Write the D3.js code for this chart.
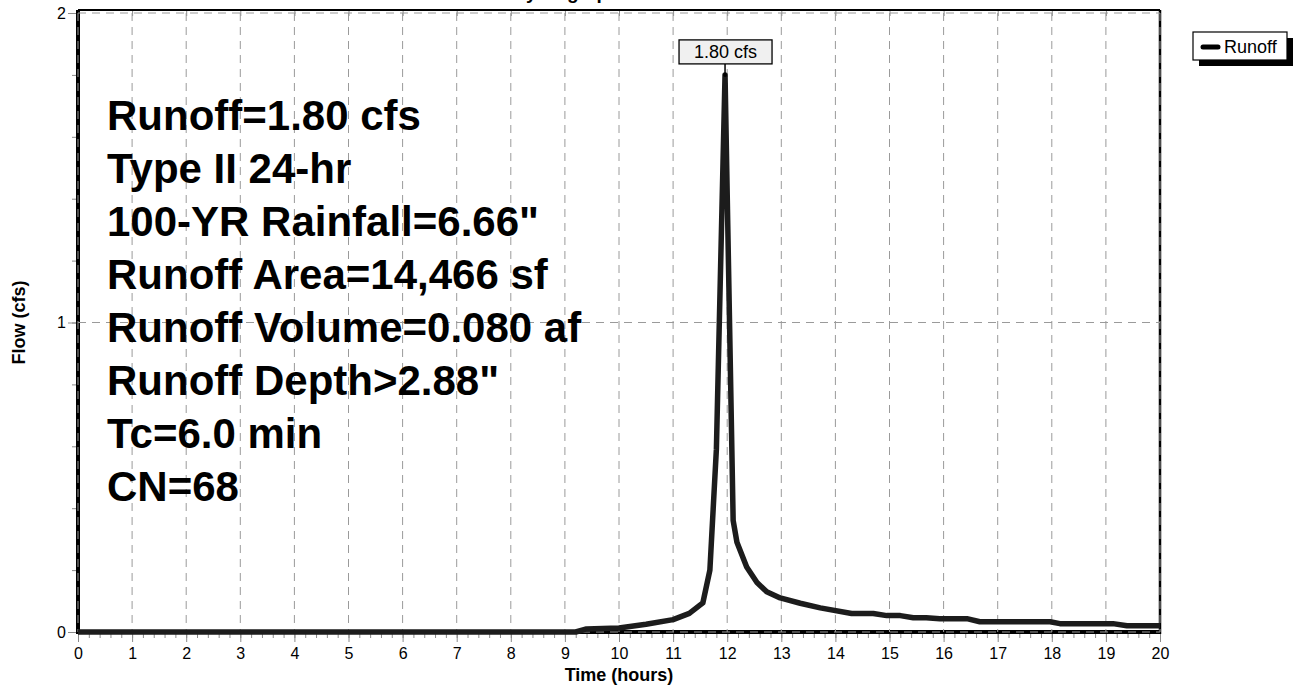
<!DOCTYPE html>
<html>
<head>
<meta charset="utf-8">
<style>
body {
  margin: 0;
  background: #fff;
}
svg {
  font-family: Arial, "Liberation Sans", sans-serif;
  display: block;
}
.grid line {
  stroke: #9a9a9a;
  stroke-dasharray: 8,6;
}
.axis path {
  display: none;
}
.axis line {
  stroke: #8a8a8a;
}
.axis text {
  fill: #000;
  font-size: 16px;
}
.info text {
  font-size: 42px;
  font-weight: bold;
}
</style>
</head>
<body>
<script src="https://cdn.jsdelivr.net/npm/d3@7"></script>
<script>

// hydrograph
var hours = [0, 9.2, 9.4, 10.0, 10.5, 11.0, 11.3, 11.55, 11.68, 11.8, 11.96, 12.11, 12.18, 12.36, 12.55, 12.73, 12.98, 13.35, 13.72, 14.3, 14.7, 14.95, 15.2, 15.44, 15.68, 15.93, 16.43, 16.67, 17.97, 18.15, 19.13, 19.39, 20.0];
var flow  = [0, 0, 0.010, 0.013, 0.025, 0.040, 0.060, 0.094, 0.20, 0.59, 1.80, 0.36, 0.29, 0.21, 0.16, 0.13, 0.11, 0.093, 0.078, 0.060, 0.060, 0.053, 0.053, 0.046, 0.046, 0.043, 0.043, 0.033, 0.033, 0.027, 0.027, 0.020, 0.020];

var xTicks = d3.range(0, 21);
var yTicks = [0, 1, 2];

var infoLines = [
  "Runoff=1.80 cfs",
  "Type II 24-hr",
  "100-YR Rainfall=6.66\"",
  "Runoff Area=14,466 sf",
  "Runoff Volume=0.080 af",
  "Runoff Depth>2.88\"",
  "Tc=6.0 min",
  "CN=68"
];

var peakLabel = "1.80 cfs",
    seriesName = "Runoff";

var width = 1296,
    height = 685,
    pLeft = 78,
    pRight = 1160,
    pTop = 13,
    pBottom = 632;

var x = d3.scaleLinear().domain([0, 20]).range([pLeft, pRight]);
var y = d3.scaleLinear().domain([0, 2]).range([pBottom, pTop]);

var svg = d3.select("body").append("svg")
    .attr("width", width)
    .attr("height", height);

// title, mostly above the page edge
svg.append("text")
    .attr("x", 566)
    .attr("y", -1)
    .attr("text-anchor", "middle")
    .style("font-size", "19px")
    .style("font-weight", "bold")
    .text("Hydrograph");

// grid
var grid = svg.append("g").attr("class", "grid");
grid.selectAll(".v")
    .data(xTicks)
    .enter().append("line")
    .attr("x1", function(d) { return x(d); })
    .attr("x2", function(d) { return x(d); })
    .attr("y1", pTop)
    .attr("y2", pBottom);
grid.selectAll(".h")
    .data(yTicks)
    .enter().append("line")
    .attr("x1", pLeft)
    .attr("x2", pRight)
    .attr("y1", function(d) { return y(d); })
    .attr("y2", function(d) { return y(d); });

// minor ticks
svg.append("g")
    .attr("class", "axis")
    .attr("transform", "translate(0," + pBottom + ")")
    .call(d3.axisBottom(x).tickValues(d3.range(0, 20.01, 0.2)).tickSize(6).tickFormat(""));
svg.append("g")
    .attr("class", "axis")
    .attr("transform", "translate(" + pLeft + ",0)")
    .call(d3.axisLeft(y).tickValues(d3.range(0, 2.01, 0.2)).tickSize(6).tickFormat(""));

// major ticks + labels
svg.append("g")
    .attr("class", "axis")
    .attr("transform", "translate(0," + pBottom + ")")
    .call(d3.axisBottom(x).tickValues(xTicks).tickSize(10).tickPadding(6).tickFormat(d3.format("d")));
svg.append("g")
    .attr("class", "axis")
    .attr("transform", "translate(" + pLeft + ",0)")
    .call(d3.axisLeft(y).tickValues(yTicks).tickSize(10).tickPadding(2).tickFormat(d3.format("d")));

// top ticks
svg.append("g")
    .attr("class", "axis")
    .attr("transform", "translate(0," + pTop + ")")
    .call(d3.axisBottom(x).tickValues(xTicks).tickSize(3).tickFormat(""))
    .selectAll("line").attr("y1", -3);

// frame
svg.append("line").attr("x1", pLeft).attr("x2", pRight).attr("y1", 10).attr("y2", 10)
    .attr("stroke", "#000").attr("stroke-width", 2);
svg.append("line").attr("x1", pRight).attr("x2", pRight).attr("y1", 10).attr("y2", pBottom + 2)
    .attr("stroke", "#000").attr("stroke-width", 2.5);
svg.append("line").attr("x1", pLeft).attr("x2", pRight).attr("y1", pBottom).attr("y2", pBottom)
    .attr("stroke", "#000").attr("stroke-width", 4);
svg.append("line").attr("x1", pLeft).attr("x2", pLeft).attr("y1", 10).attr("y2", pBottom + 2)
    .attr("stroke", "#000").attr("stroke-width", 4);

// re-draw dashed grid over the axis
grid.raise();

// hydrograph
var line = d3.line()
    .x(function(d, i) { return x(hours[i]); })
    .y(function(d) { return y(d); });

svg.append("path")
    .datum(flow)
    .attr("d", line)
    .attr("fill", "none")
    .attr("stroke", "#1c1c1c")
    .attr("stroke-width", 5.5)
    .attr("stroke-linejoin", "round");

// peak label
var iPeak = flow.indexOf(d3.max(flow));
var px = x(hours[iPeak]), py = y(flow[iPeak]);
svg.append("line")
    .attr("x1", px).attr("x2", px)
    .attr("y1", py - 11).attr("y2", py)
    .attr("stroke", "#000").attr("stroke-width", 1.5);
svg.append("circle").attr("cx", px).attr("cy", py).attr("r", 2).attr("fill", "#000");
svg.append("rect")
    .attr("x", px - 46).attr("y", py - 35)
    .attr("width", 93).attr("height", 24)
    .attr("fill", "#f0f0f0").attr("stroke", "#000").attr("stroke-width", 1.3);
svg.append("text")
    .attr("x", px + 0.5).attr("y", py - 17)
    .attr("text-anchor", "middle")
    .style("font-size", "18px")
    .text(peakLabel);

// info block
svg.append("g")
    .attr("class", "info")
    .selectAll("text")
    .data(infoLines)
    .enter().append("text")
    .attr("x", 107)
    .attr("y", function(d, i) { return 130 + i * 53; })
    .text(function(d) { return d; });

// axis titles
svg.append("text")
    .attr("x", (pLeft + pRight) / 2)
    .attr("y", 681)
    .attr("text-anchor", "middle")
    .style("font-size", "18px")
    .style("font-weight", "bold")
    .text("Time  (hours)");
svg.append("text")
    .attr("transform", "translate(25," + y(1) + ") rotate(-90)")
    .attr("text-anchor", "middle")
    .style("font-size", "18px")
    .style("font-weight", "bold")
    .text("Flow  (cfs)");

// legend
var lg = svg.append("g").attr("transform", "translate(1193,32)");
lg.append("rect").attr("x", 6).attr("y", 6).attr("width", 94).attr("height", 28).attr("fill", "#000");
lg.append("rect").attr("width", 94).attr("height", 28).attr("fill", "#fff").attr("stroke", "#000").attr("stroke-width", 1.2);
lg.append("line").attr("x1", 10).attr("x2", 25).attr("y1", 15).attr("y2", 15)
    .attr("stroke", "#000").attr("stroke-width", 5).attr("stroke-linecap", "round");
lg.append("text").attr("x", 31).attr("y", 21).style("font-size", "18px").text(seriesName);

</script>
</body>
</html>
